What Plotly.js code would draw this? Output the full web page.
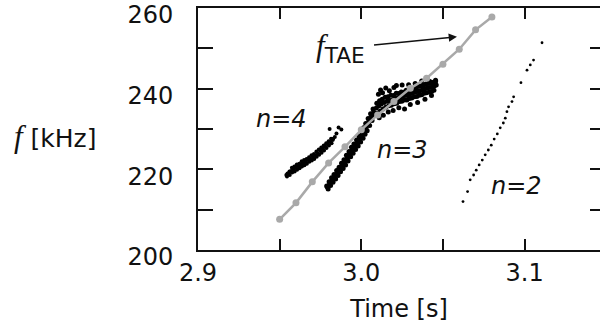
<!DOCTYPE html>
<html>
<head>
<meta charset="utf-8">
<script src="https://cdn.plot.ly/plotly-3.0.1.min.js"></script>
<style>html,body{margin:0;padding:0;background:#fff;}#chart{width:600px;height:327px;}</style>
</head>
<body>
<div id="chart"></div>
<script>
// TAE frequency (gray line with markers)
const taeTime = [2.95, 2.96, 2.97, 2.98, 2.99, 3.00, 3.01, 3.02, 3.03, 3.04, 3.05, 3.06, 3.07, 3.08];
const taeFreq = [207.6, 211.7, 216.9, 221.6, 225.6, 229.8, 233.5, 236.8, 240.1, 242.6, 246.1, 249.8, 254.6, 257.8];

// n=4 mode points
const n4Time = [2.9541, 2.9545, 2.9548, 2.9560, 2.9562, 2.9575, 2.9577, 2.9590, 2.9592, 2.9605, 2.9607, 2.9620, 2.9622,
  2.9635, 2.9637, 2.9650, 2.9652, 2.9665, 2.9667, 2.9680, 2.9682, 2.9695, 2.9697, 2.9710, 2.9712, 2.9725, 2.9727,
  2.9740, 2.9742, 2.9755, 2.9757, 2.9770, 2.9772, 2.9785, 2.9787, 2.9800, 2.9802, 2.9815, 2.9818, 2.9828, 2.9838,
  2.9555, 2.9570, 2.9585, 2.9600, 2.9615, 2.9630, 2.9645, 2.9660, 2.9675, 2.9690, 2.9705, 2.9720, 2.9735, 2.9750,
  2.9765, 2.9780, 2.9795, 2.9810, 2.9825,
  2.9806, 2.9861, 2.9878, 2.9848];
const n4Freq = [218.6, 218.2, 219.0, 219.5, 218.6, 220.4, 219.2, 220.7, 219.5, 221.2, 219.9, 221.4, 220.3,
  222.0, 220.7, 222.3, 221.0, 222.6, 221.4, 223.0, 221.9, 223.5, 222.2, 223.8, 222.6, 224.4, 223.1,
  224.9, 223.6, 225.4, 224.1, 225.9, 224.7, 226.5, 225.3, 227.0, 225.9, 227.6, 226.5, 227.6, 228.0,
  219.0, 219.6, 220.0, 220.4, 220.8, 221.2, 221.5, 221.9, 222.3, 222.6, 223.0, 223.5, 224.0, 224.6,
  225.1, 225.6, 226.2, 226.8, 227.3,
  230.0, 230.4, 229.9, 228.9];

// n=3 mode points
const n3Time = [
  2.9792, 2.9807, 2.9822, 2.9838, 2.9853, 2.9868, 2.9884, 2.9899, 2.9914, 2.9930, 2.9945, 2.9960, 2.9976, 2.9991, 3.0006, 3.0018, 3.0031, 3.0046, 3.0061, 3.0076,
  2.9788, 2.9803, 2.9818, 2.9833, 2.9849, 2.9864, 2.9879, 2.9894, 2.9909, 2.9925, 2.9940, 2.9955, 2.9971, 2.9986, 3.0001, 3.0014, 3.0027, 3.0042, 3.0057, 3.0072,
  2.9797, 2.9812, 2.9827, 2.9843, 2.9858, 2.9873, 2.9889, 2.9904, 2.9919, 2.9935, 2.9950, 2.9965, 2.9981, 2.9996, 3.0011, 3.0023, 3.0036, 3.0051, 3.0066, 3.0081,
  3.0092, 3.0107, 3.0122, 3.0140, 3.0159, 3.0175, 3.0190, 3.0205, 3.0220, 3.0236, 3.0251, 3.0267, 3.0282, 3.0297, 3.0312, 3.0328, 3.0343, 3.0358, 3.0374, 3.0389, 3.0404, 3.0420, 3.0435, 3.0447, 3.0459,
  3.0095, 3.0112, 3.0128, 3.0146, 3.0163, 3.0181, 3.0198, 3.0214, 3.0229, 3.0245, 3.0259, 3.0275, 3.0290, 3.0305, 3.0320, 3.0336, 3.0351, 3.0366, 3.0381, 3.0396, 3.0412, 3.0428, 3.0442, 3.0455,
  3.0099, 3.0115, 3.0133, 3.0150, 3.0168, 3.0184, 3.0201, 3.0217, 3.0233, 3.0248, 3.0263, 3.0279, 3.0294, 3.0309, 3.0324, 3.0340, 3.0355, 3.0370, 3.0385, 3.0400, 3.0416, 3.0431, 3.0445,
  3.0105, 3.0118, 3.0130, 3.0150, 3.0172, 3.0200, 3.0215, 3.0250, 3.0290, 3.0330, 3.0370, 3.0420, 3.0455,
  3.0110, 3.0135, 3.0165, 3.0195, 3.0230, 3.0265, 3.0300, 3.0345, 3.0390, 3.0430
];
const n3Freq = [
  215.6, 216.5, 217.4, 218.2, 219.1, 220.0, 220.8, 221.8, 222.8, 223.8, 224.8, 225.6, 226.5, 227.5, 228.5, 229.5, 230.5, 231.8, 233.0, 234.2,
  215.9, 216.9, 217.9, 218.7, 219.7, 220.5, 221.5, 222.4, 223.5, 224.4, 225.5, 226.3, 227.3, 228.2, 229.3, 230.3, 231.4, 232.6, 233.8, 235.0,
  215.1, 216.0, 216.8, 217.6, 218.5, 219.4, 220.2, 221.1, 222.1, 223.1, 224.0, 224.9, 225.8, 226.8, 227.7, 228.7, 229.6, 230.9, 232.1, 233.4,
  235.2, 235.7, 236.2, 236.6, 236.9, 237.1, 237.2, 237.5, 237.7, 237.9, 238.1, 238.3, 238.4, 238.7, 238.9, 239.1, 239.3, 239.5, 239.7, 240.0, 240.2, 240.3, 240.5, 240.7, 240.9,
  236.4, 237.0, 237.4, 237.9, 238.0, 238.4, 238.3, 238.9, 238.8, 239.2, 239.1, 239.6, 239.5, 239.9, 240.1, 240.2, 240.6, 240.7, 240.9, 241.2, 241.3, 241.5, 241.6, 241.8,
  233.9, 234.4, 235.0, 235.4, 235.8, 235.9, 236.3, 236.4, 236.8, 236.9, 237.2, 237.2, 237.6, 237.7, 238.0, 238.1, 238.4, 238.5, 238.9, 239.0, 239.2, 239.3, 239.6,
  238.6, 239.7, 239.0, 240.2, 239.5, 240.3, 240.8, 240.9, 241.0, 241.3, 241.9, 241.8, 242.1,
  232.8, 233.4, 234.2, 234.6, 235.3, 235.0, 236.1, 236.6, 237.4, 238.3
];

// n=2 mode points
const n2Time = [3.0623, 3.0651, 3.0667, 3.0688, 3.0704, 3.0722, 3.0741, 3.0759, 3.0778, 3.0796, 3.0814, 3.0833, 3.0851, 3.0870, 3.0882,
  3.0892, 3.0902, 3.0923, 3.0933, 3.0978, 3.1015, 3.1035, 3.1055, 3.1107];
const n2Freq = [212.0, 214.5, 217.4, 218.6, 219.8, 221.1, 222.3, 223.6, 224.8, 226.0, 227.5, 228.8, 230.3, 231.5, 232.7,
  234.3, 235.5, 236.8, 238.0, 241.5, 244.6, 245.9, 247.1, 251.4];

// tick labels (major, labelled) and unlabelled minor tick spacing
const xTickVals = [2.9, 3.0, 3.1];
const xTickText = ['2.9', '3.0', '3.1'];
const yTickVals = [200, 220, 240, 260];
const yTickText = ['200', '220', '240', '260'];
const yRightTicks = [210, 220, 230, 240, 250];

// label texts
const labelN4 = 'n=4', labelN3 = 'n=3', labelN2 = 'n=2';
const labelTAE = 'TAE';
const labelY = '[kHz]';
const labelX = 'Time [s]';

const FONT = 'DejaVu Sans';
const INK = '#111';
const serifF = (px) => '<span style="font-family:Liberation Serif;font-size:' + px + 'px"><i>f</i></span>';

const traces = [
  {x: n4Time, y: n4Freq, type: 'scatter', mode: 'markers', marker: {size: 4, color: '#000'}, hoverinfo: 'skip'},
  {x: n3Time, y: n3Freq, type: 'scatter', mode: 'markers', marker: {size: 5, color: '#000'}, hoverinfo: 'skip'},
  {x: n2Time, y: n2Freq, type: 'scatter', mode: 'markers', marker: {size: 2.8, color: '#000'}, hoverinfo: 'skip'},
  {x: taeTime, y: taeFreq, type: 'scatter', mode: 'lines+markers', yaxis: 'y2',
   line: {color: '#a9a9a9', width: 2.5}, marker: {color: '#a9a9a9', size: 7}, hoverinfo: 'skip'}
];

const axisFont = {family: FONT, size: 24, color: INK};
const layout = {
  width: 600, height: 327,
  margin: {l: 198, r: 0, t: 8, b: 77, pad: 0},
  paper_bgcolor: '#fff', plot_bgcolor: '#fff',
  showlegend: false,
  font: {family: FONT, color: INK},
  xaxis: {
    range: [2.9, 3.1462], tickmode: 'array', tickvals: xTickVals, ticktext: xTickText,
    ticks: 'inside', ticklen: 11, tickwidth: 2, tickcolor: INK,
    minor: {tick0: 2.9, dtick: 0.05, ticks: 'inside', ticklen: 11, tickwidth: 2, tickcolor: INK, showgrid: false},
    showline: true, linewidth: 2, linecolor: INK, mirror: 'allticks',
    showgrid: false, zeroline: false, tickfont: axisFont, ticklabelstandoff: 0,
    title: {text: labelX, font: axisFont, standoff: 14}
  },
  yaxis: {
    range: [200, 260.02], tickmode: 'array', tickvals: yTickVals, ticktext: yTickText,
    ticks: 'inside', ticklen: 15, tickwidth: 2, tickcolor: INK,
    minor: {tick0: 200, dtick: 10, ticks: 'inside', ticklen: 15, tickwidth: 2, tickcolor: INK, showgrid: false},
    showline: true, linewidth: 2, linecolor: INK, mirror: true,
    showgrid: false, zeroline: false, tickfont: axisFont, ticklabelstandoff: 18, ticklabelshift: 7,
    ticklabeloverflow: 'allow'
  },
  yaxis2: {
    overlaying: 'y', side: 'right', range: [200, 260.02], tickmode: 'array', tickvals: yRightTicks,
    ticks: 'inside', ticklen: 10, tickwidth: 2, tickcolor: INK, showticklabels: false,
    showline: false, showgrid: false, zeroline: false
  },
  annotations: [
    {xref: 'paper', yref: 'paper', x: -0.4627, y: 0.471, xanchor: 'left', yanchor: 'middle',
     text: serifF(31) + ' ' + labelY, showarrow: false, font: {family: FONT, size: 25, color: INK}},
    {x: 3.0586, y: 252.9, ax: 2.9870, ay: 250.0, axref: 'x', ayref: 'y',
     text: serifF(31) + '<sub>' + labelTAE + '</sub>', font: {family: FONT, size: 31, color: INK},
     showarrow: true, arrowhead: 2, arrowsize: 1.1, arrowwidth: 1.5, arrowcolor: INK, startstandoff: 8},
    {x: 2.9513, y: 232.5, text: '<i>' + labelN4 + '</i>', showarrow: false, font: axisFont},
    {x: 3.0254, y: 224.8, text: '<i>' + labelN3 + '</i>', showarrow: false, font: axisFont},
    {x: 3.0952, y: 215.9, text: '<i>' + labelN2 + '</i>', showarrow: false, font: axisFont}
  ]
};

Plotly.newPlot('chart', traces, layout, {staticPlot: true, displayModeBar: false});
</script>
</body>
</html>
